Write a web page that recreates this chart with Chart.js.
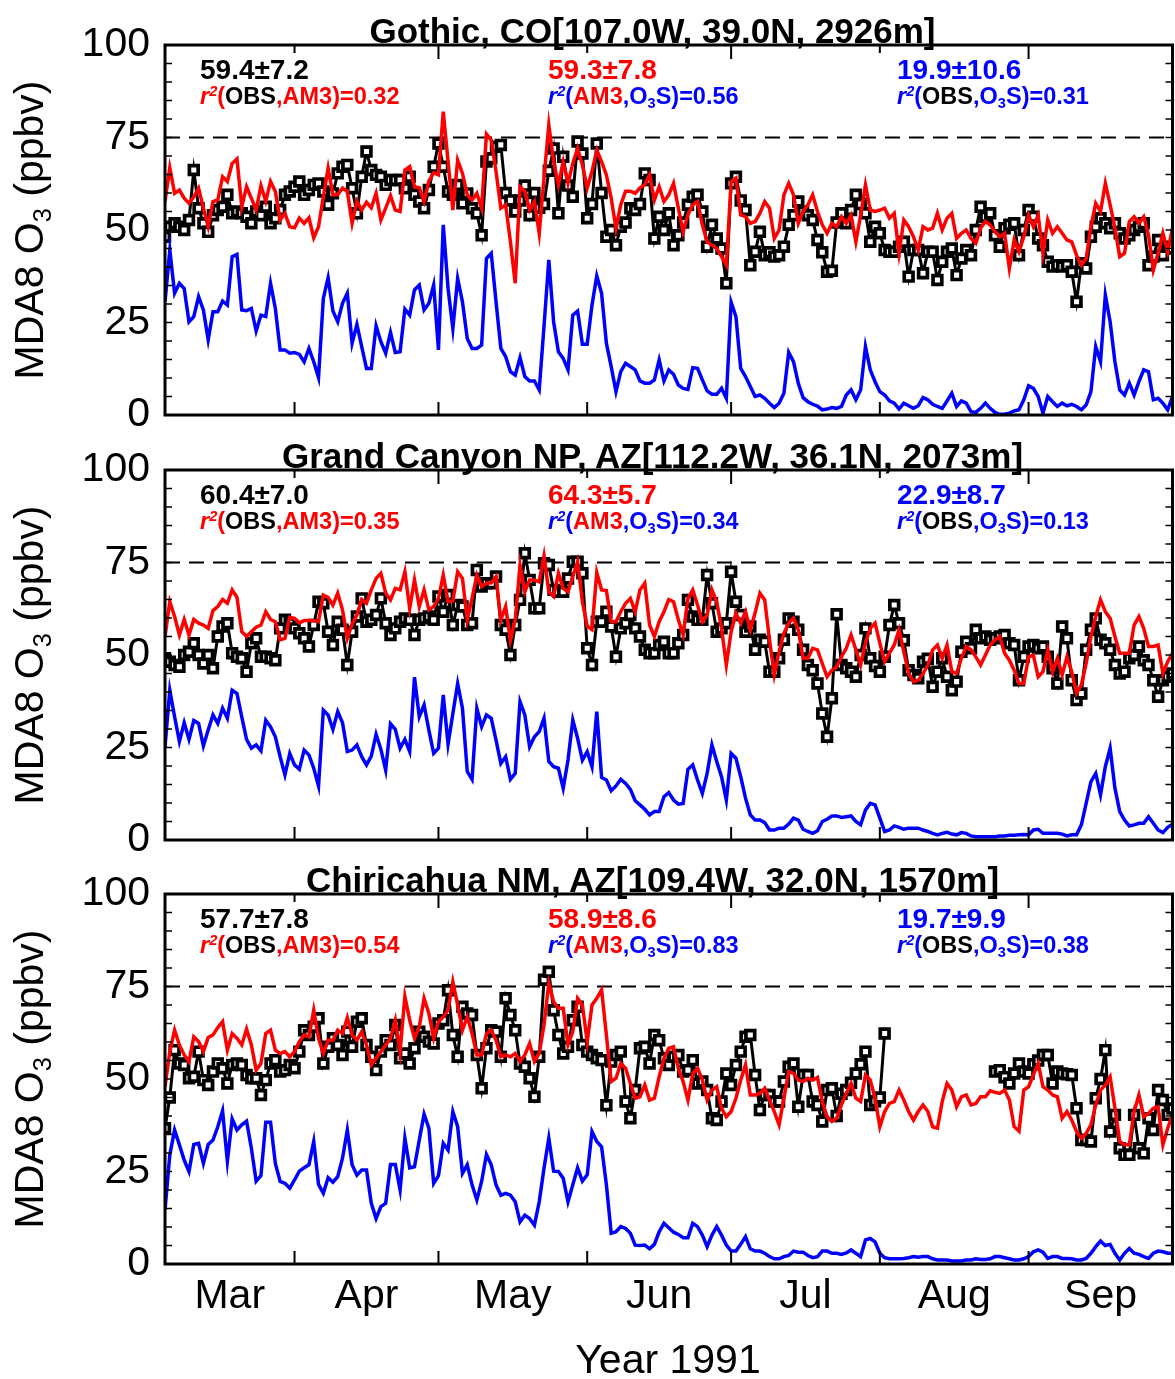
<!DOCTYPE html>
<html>
<head>
<meta charset="utf-8">
<script src="https://cdn.jsdelivr.net/npm/chart.js@4.4.1/dist/chart.umd.min.js"></script>
<style>
  html, body { margin: 0; padding: 0; background: #fff; }
  #wrap { position: relative; width: 1175px; height: 1379px; overflow: hidden; font-family: "Liberation Sans", Arial, sans-serif; }
  #wrap canvas { position: absolute; left: 0; top: 0; }
  .txt { position: absolute; white-space: nowrap; }
  .sup { font-size: 0.62em; position: relative; top: -0.55em; }
  .sub { font-size: 0.62em; position: relative; top: 0.3em; }
</style>
</head>
<body>
<div id="wrap">
  <canvas id="c0" width="1175" height="1379"></canvas>
  <canvas id="c1" width="1175" height="1379"></canvas>
  <canvas id="c2" width="1175" height="1379"></canvas>
</div>
<script>
// ---------------- axis / category data ----------------
const firstDay = 64;               // day of year 1991 of first daily value (5 Mar)
const xMin = 64, xMax = 274;
const monthStarts = [91, 121, 152, 182, 213, 244];          // Apr..Sep 1st (day of year)
const monthMids = [77.5, 106, 136.5, 167, 197.5, 228.5, 259];
const monthLabels = ['Mar', 'Apr', 'May', 'Jun', 'Jul', 'Aug', 'Sep'];
const yTicks = [0, 25, 50, 75, 100];
const refLevel = 75;
const xTitle = 'Year 1991';

const siteTitles = ['Gothic, CO[107.0W, 39.0N, 2926m]',
                    'Grand Canyon NP, AZ[112.2W, 36.1N, 2073m]',
                    'Chiricahua NM, AZ[109.4W, 32.0N, 1570m]'];
const obsMean = ['59.4±7.2', '60.4±7.0', '57.7±7.8'];
const am3Mean = ['59.3±7.8', '64.3±5.7', '58.9±8.6'];
const o3sMean = ['19.9±10.6', '22.9±8.7', '19.7±9.9'];
const r2ObsAm3 = ['0.32', '0.35', '0.54'];
const r2Am3O3s = ['0.56', '0.34', '0.83'];
const r2ObsO3s = ['0.31', '0.13', '0.38'];

// ---------------- series values (ppbv, daily) ----------------
const gothicO3s = [
 30.6,44.6,32.9,35.6,34.2,25.2,26.6,32,28.4,20.3,27.9,27.9,30.8,29.7,42.8,43.4,28.4,28.2,28.8,22.7,
 27,26.6,35.6,28.8,17.6,17.6,16.7,16.9,16.4,14.4,18,14.4,10.1,31.5,37.1,28.1,25.2,30.2,32.9,19.4,
 24.5,18.5,12.6,12.6,24.1,19.8,16.7,22.3,16.9,17.1,28.6,27,33.8,35.1,28.4,30.2,35.1,17.6,51.4,34.2,
 23.4,36.9,30.6,20.7,18,18,18.9,42.3,43.7,30.6,18,
 15.8,11.7,10.8,15.5,10.4,9.2,9.2,6.8,24,41.9,25.2,17.1,15.3,12.2,27,28.1,19.1,19.1,29.7,37.6,
 32.9,19.4,13.1,6.3,11.7,14,13.1,12.2,9.2,8.6,8.6,9.5,14.9,9.2,12.2,11,8.1,7.2,6.9,12.8,
 12.6,9.5,6.5,5.6,5.6,7.2,4.5,30.5,26.6,12.6,10.4,7.7,5,5.4,4.5,3.2,2,3.2,5.9,16.9,
 14.4,8.6,4.7,3.6,2.9,2.4,1.4,1.6,2,
 1.8,2.3,5.4,6.8,4.1,6.8,18.5,12.2,9,6.3,5.4,3.8,3.2,1.6,3.2,2.5,1.8,2.5,4.7,4.1,
 2.9,2.3,1.8,3.8,5.9,2.3,3.8,3.2,0.9,0.7,1.8,3.2,1.8,0.7,0.2,0.2,0.5,1.1,1.4,4.1,
 7.9,7.2,5,0.5,5,3.6,2.3,3.2,2.5,2.9,2.3,1.4,2.7,6.3,18.5,14.4,32.4,25.2,14.4,6.8,
 5.4,8.6,5.4,9,12.2,11.7,4.1,4.5,3.2,1.4,5
];
const gothicAm3 = [
 57.7,66.8,59.9,60.8,58.6,57.2,59,61.3,56,50.9,57.7,58.1,64.4,63.1,68,69.2,56.3,61.7,58.6,55.4,
 62,57.8,63.1,60.4,52.7,54.5,50.9,50.6,53.2,51.8,53.3,47.9,50.9,59,66.7,59.5,59.6,61.3,60.5,51.8,
 57.8,55.4,57.5,56,59.9,52.7,55.9,59.3,55.4,55,66.2,67.1,61.7,61.4,57.7,63.2,65.5,64.9,82,68.5,
 55.4,68.9,65.3,59.5,58.1,59.9,55.9,75.9,74.3,65.8,55.9,
 56.8,46.8,35.6,61.7,60.4,55.4,57.7,49.1,64,78.4,68.5,62.2,68.5,62.6,68,72.1,67.6,61.3,65.8,71.6,
 68.5,64.9,58.6,50.5,56.8,60.5,60.5,59.9,61.4,62.2,64.9,58.1,61.7,57.7,59.5,62.6,55.9,49.5,54.1,56.8,
 57.7,51.4,46.8,45.9,45,42.8,40.5,63.1,64,54.1,53.6,51.8,52.3,54.5,57.7,55.9,47.7,50,59.5,62.6,
 59.5,51.8,55,56.8,59.5,55,51.4,49.1,51.8,
 50.9,53.6,51.8,54,46.8,54,62.2,55.4,55,55.4,55.9,53.2,54.5,43.7,52.7,50.9,48.2,44.6,50.9,50,
 50.5,54.5,50,53.2,54.5,47.7,49.1,50,47.7,46.4,50.5,52.3,51.4,49.5,48.2,49.1,39.6,47.3,44.1,48.2,
 54,50.9,54,43.7,52.7,49.1,50.9,49.1,47.3,46.8,43.2,40.5,42.3,50.9,57.2,55,62.6,56.8,50.5,42.8,
 43.7,52.3,53.6,51.8,53.6,48.6,39.2,43.7,49.1,44.1,50.5
];
const gothicObs = [
 48.2,50.9,51.8,50.9,50,52.7,66.2,55.9,51.8,49.5,54,55.4,56.3,59.5,54.5,55,54.5,53.6,51.8,55,
 54,56.3,51.8,53.2,55.4,59.5,60.4,61.7,63.1,59.5,60.8,62.2,62.6,60.4,56.8,59.9,65.3,67.1,67.6,61.3,
 54.5,64.4,71.2,66.2,64.9,64.4,62.2,63.5,63.5,63.5,61.3,64.4,59.5,57.7,55.9,60.8,67.1,73.4,67.1,60.4,
 59.5,62.2,57.2,59.9,55.9,54.5,48.6,68.5,69.4,72.5,73,
 60,58,55,58,62,54,60,56,57,66,72,54.5,69.8,62,59,73.9,70.7,53.2,57,73.4,
 60,48.2,50,45.9,50.9,52,55.9,55.4,57,65.3,63.5,47.7,53.6,50,54.5,45.9,48.6,52,56.8,59,
 59.5,55,45.5,51.4,47.7,45,35.6,62.6,64.4,58,55.4,40.5,44.1,49.5,43.2,44,42.8,43.2,45.5,51.4,
 54,57.7,55,54,52.7,47.3,44,38.7,39,
 52,54.5,51.8,55.4,59.5,57,54.5,46.8,50.9,49.1,44.6,44.1,44.1,45.5,46.8,37.4,44.6,44.6,38.3,44.1,
 44.1,36.5,41.4,44.1,45,37.8,42.3,44.6,43.2,50,56.3,53.6,54.5,48.6,45.5,50.5,51.4,51.8,43.2,50,
 55.4,53.6,47.7,45.9,41.4,40.1,40.5,40.1,40.5,38.7,30.6,41,39.6,48.2,50.9,53.2,51.8,50.5,51.8,49.1,
 47.7,48.6,50,50.9,51.8,40.5,42.8,47.3,43.2,45.5,45
];

const canyonO3s = [
 25.2,40.5,33.3,26.6,31.7,27.2,32.3,31.5,25.4,29.7,33.8,31.5,35.6,32.9,40.5,39.6,33.3,27.2,24.8,25.7,
 24.1,32.4,30.6,27.9,22.5,17.6,23.4,20.3,19.1,24.3,23,19.4,14.6,35.1,33.8,29.9,34.7,31.7,23.9,24.3,
 25.7,22.5,20.3,22.7,28.6,24.5,18.9,31.4,29.9,24.8,27.2,23.9,44,33.3,36.5,29.7,23.4,24.8,39.2,25.9,
 34.2,42.3,35.6,18.5,16.4,35.6,30.6,33.8,32.9,27,20.7,
 22.5,16.4,18,37.4,33.8,25.2,27.9,29.3,32.9,21.2,19.8,19.4,14,21.6,32.4,27.5,21.6,23.9,19.8,34.7,
 16.9,16.2,13.3,14.6,16.4,15.3,13.7,10.6,9.5,8.3,6.8,7.7,7.7,11.7,12.8,10.8,9.7,9.9,19.1,20.3,
 16.2,12.6,18,25.7,21.2,17.1,10.8,23.4,22.1,17.1,11.3,6.8,5.4,5.4,4.7,2.7,2.7,3.2,3.2,4.3,
 5.9,5.4,2.9,2.3,1.8,2.5,5,5.6,6.5,
 6.5,6.1,6.3,6.5,5,4.1,8.1,9.9,9.5,5.9,2.3,2.7,3.8,3.4,2.9,3.2,3.2,3.2,2.7,2.3,
 1.8,1.4,1.8,2.1,1.6,1.4,2,1.8,1.1,0.9,0.9,0.9,0.9,0.9,1.1,1.1,1.3,1.3,1.4,1.5,
 1.4,2.7,2.9,1.8,1.8,1.8,1.8,1.6,1.1,1.4,1.4,4.1,9.9,15.8,18,12.2,19.8,24.8,14,7.7,
 5.4,3.8,4.1,4.5,4.5,6.3,4.5,2.7,2,3.4,4.3
];
const canyonAm3 = [
 55,64.4,60.4,55.4,59.6,55.4,59.6,58.6,58.1,57.2,62,63.1,65,64,67.6,65.6,56.3,55,56.3,57.5,
 58.1,61.7,59.6,59,54.1,54.5,60.2,59.9,58.7,59.3,59.3,59.3,59,66.2,65.6,63.5,66.7,62.2,54.5,58.4,
 60.8,65,64,67.6,70.7,72.1,66.7,64.9,68,67.6,72.5,62.6,70.3,63.1,67.6,62.2,63.1,65.3,71.6,64.4,
 64.6,72.5,70.7,59.5,65.3,71.6,68.5,69.4,69.5,71.2,59.5,
 63.1,54,59.5,74.3,67.1,70.3,70.3,69.8,76.8,67.1,65.8,72.1,68,67.1,71.2,75.2,64.4,57.8,56.9,72.3,
 67.6,67.4,59,59,61.7,64,65.3,61.7,67.6,69.4,58.1,55,59,61.7,65,64.4,59.5,55.4,65.3,67.6,
 63.5,59,60.8,67.6,64.4,57.2,47.3,56.3,61.3,58.6,61.7,56.8,61.4,66.7,64.9,54.1,44.6,50.9,55.9,58.6,
 60,56.8,49.1,49.1,51.8,51.4,47.7,44.1,45.9,
 46.8,49.5,51.8,55.4,51.4,47.3,53.2,57.2,58.6,53.2,48.2,50.5,52.7,56.8,50.9,45,42.8,43.2,45,47.3,
 51.4,52.7,49.1,52.7,45.5,45,49.1,52.3,51.4,49.5,47.3,50,52.7,54.1,55,50.5,48.6,45.9,42.3,42.3,
 49.5,50,44.1,45.5,51.4,45.5,49.1,44.6,49.5,45.5,39.6,41.9,47.7,55,60.4,64.9,61.7,59.9,55,50.5,
 50.5,50.5,58.1,60.4,57.2,52.3,52.3,52.7,45,48.2,50.5
];
const canyonObs = [
 49.1,48.2,47.3,46.8,50,50.9,53.2,50,47.7,50,46.4,55,57.7,58.6,50.5,49.5,49.1,45.5,53.2,54.5,
 49.5,49.5,49.1,48.6,57.2,59.5,58.6,57.2,55.9,54.5,52.3,58.1,64.4,64,56.3,52.7,59,56.8,47.3,56.3,
 60.4,65.3,59,59.5,60.8,65.3,58.6,55.4,57.2,59,59.9,59.5,55.4,59.5,59.9,60.4,59.5,65.8,61.7,66.2,
 58.1,63.5,63.1,58.1,58.6,73,68.5,69.4,69.4,71.2,58.1,
 56.8,50,58.1,64.9,77.5,70.3,62.6,62.6,74.8,74.3,67.6,67.1,67.1,70.7,75.2,75.2,72.1,51.8,47.3,59,
 59,61.7,57.7,49.5,57.2,58.6,60.8,57.2,55,51.4,50.5,50.5,52.7,53.6,50.5,50.5,53.2,55.4,64.9,60.4,
 59.5,59.5,71.6,64,56.3,57.2,58.6,72.5,64.4,60.8,56.3,57.7,51.4,54.1,53.6,45.5,45.5,49.1,54.1,59.9,
 59,56.8,51.4,47.3,45.9,42.3,34.2,27.9,38.3,
 61,47.3,46.4,45.5,44.1,50,57.2,49.1,47,45.5,49.5,58.1,63.5,58.6,54,45.9,44.6,43.7,48.2,49,
 41.4,45.5,49.1,44.1,40.5,42.8,50.9,53.6,51.8,56.8,54.5,55,54.1,54.5,55,55.4,53.2,52.7,43.2,49.5,
 52.3,52.7,51.8,52.3,49.5,46.4,42.3,57.7,54.5,43.2,37.8,39.6,51.4,56.8,59.9,54.1,53.2,51.4,47.3,45,
 45.5,49.1,50,52.3,48.6,47.3,43.2,38.7,43.2,44.1,45
];

const chiriO3s = [
 14.6,29.5,36.2,32.2,28.1,25,32.3,32.6,27.2,32.3,33.5,37.1,41.4,27.8,39.2,36.2,37.6,38.6,31.3,22.4,
 23.9,38.3,38.3,27.2,22.3,21.8,20.5,22.7,25.1,26,26.8,33.1,21.5,19.1,23.3,22.1,23.6,28.6,36.2,26.8,
 24,25.4,25.4,16.4,12.3,15.5,16.4,26.9,26.9,20,34,26,26.3,33.5,40.5,36.7,21.8,23.9,32.6,30.8,
 41.2,37.1,24.5,26.8,21.4,17.3,22.3,29.6,26.8,21.4,18.6,
 19.1,18.6,16.8,11.4,13.2,12.3,10.5,16.8,25.9,34,25.1,25,23.2,16.8,21.4,26,22.4,24.1,35.8,33.1,
 31.7,21.4,8.3,8.7,10.1,9.6,8.3,5.1,5,5.1,4.1,5.3,8.7,11,9.8,8.6,8,7.1,7.1,11,
 10.1,7.8,4.7,7.8,10.1,7.8,5.1,3.5,3.5,5.3,7.4,4.1,3.5,3.5,2.9,2,1.4,1.4,2,2.3,
 3.5,3.2,3.2,2.3,1.7,2,3.5,3.5,2.9,
 2.9,2.6,3,3.8,2.9,2,6.5,6.9,6,2.9,1.7,1.4,1.4,1.4,1.5,1.7,2,1.8,2,2,
 1.4,1.1,1.1,1.1,0.8,0.8,0.8,1.1,1.1,1.4,1.2,1.2,1.4,2,2,1.7,1.4,1.1,1.1,1.4,
 2,3.3,3.8,3.2,1.5,2,2,1.5,1.5,1.4,1.1,1.1,1.5,2.9,4.7,6.2,5,5.3,2.9,1.1,
 2.9,4.2,2.9,2.6,2,1.5,2.9,3.5,3.3,2.9,2.9
];
const chiriAm3 = [
 47.9,57.4,63.2,59.2,56.5,54.7,61.4,60.1,57.4,61.2,61.9,63.9,65.5,57.8,62.3,61,59.2,63.5,59.2,52.4,
 54.2,62.3,63.2,57.8,56.9,57.4,56,57.4,60.1,61.9,61.4,68.6,61,56.9,60.5,60.5,63.2,62.3,66.6,61.9,
 60.5,62.8,59.2,53.8,55.6,57.4,59.2,61,65.9,57.4,72.3,65.9,61,64.1,71.8,67.7,61,65.5,66.8,68.6,
 76.3,70,63.2,66.8,62.3,56.5,56.5,62.3,63.2,60.5,56,
 56.5,56,56.9,54.7,56.5,59.6,54.7,56.9,64.6,75.9,70.9,69.1,69.1,59.2,62.8,71.8,70,60.1,70,71.8,
 74.1,61.9,49.3,50.2,54.2,52.9,48.8,44.8,45.2,48.4,44.3,44.8,50.6,55.6,58.3,58.7,52.9,49.3,44.3,51.5,
 52.9,49.7,44.3,47,47.9,42.1,39.8,41.2,44.8,49.7,53.8,45.7,45.7,46.1,47.5,44.3,41.2,37.6,44.8,52,
 51.5,49.7,49.3,50.2,49.7,50.4,43.9,39.8,38.5,
 39.4,43,46.1,48.8,44.8,43.9,51.1,49.7,44.8,37.1,41.2,43.4,43.9,47,44.3,41.2,38.9,41.2,43,41.2,
 37.1,36.7,43.9,48.8,47,42.5,45.2,45.7,43,43.4,45.2,45.2,46.8,46.4,46.1,47,44.3,37.1,35.9,47,
 47.9,51.1,54.2,47.9,47,45.7,45.2,39.4,41.2,38.9,35.8,34,35.3,37.6,43,47,48.4,50.6,42.1,33.1,
 32.2,32.2,41.2,45.7,39.8,40.7,42.1,42.5,32.2,36.7,40.3
];
const chiriObs = [
 36.7,45,57.8,54.2,53.8,50.2,50.6,57.4,49.7,48.4,52,54.2,52.9,48.8,53.8,54.2,53.8,51.1,50.2,50.2,
 45.7,49.7,54.2,55.1,52,52.4,53.8,52.9,57.4,63.2,61.9,64.1,66.4,54.2,58.7,61,59.2,56.5,62.8,58.7,
 65.5,66.4,59.2,56,52.4,57.4,60.5,59.2,64.6,55.6,56.9,54.2,58.3,62.8,61.4,60.1,59.6,65,65.9,74,
 61.9,56,69.5,67.7,67.3,56.5,47.5,58.3,63.2,62.8,56,
 71.8,67.3,63.2,54.2,53.3,50.2,45.2,56,76.8,79,68.6,61.9,56.9,58.7,65.9,69.5,59.2,57.4,56.5,55.6,
 55.1,42.9,54.7,56.5,57.4,43.9,39.4,47,58.3,58.7,54.2,61.9,60.5,55.6,53.8,56,56.5,52,52.4,55.1,
 48.8,49.3,47,39.4,38.9,43.9,51.5,48.4,53.8,57.4,61.4,61.9,51.1,41.6,45.7,45.7,43.9,43.9,49.3,53.3,
 54.2,42.5,51.1,51.1,43.9,43,38.5,47,47.5,
 40,46,47,49,51.5,54,57.4,43,44,45,62.3,
 null,null,null,null,null,null,null,null,null,null,null,null,null,null,null,null,null,null,null,null,null,null,
 52,52.4,50.5,48.8,51.5,54.2,52,51.5,54,55,56.5,56.5,48.8,52,51.5,51.3,51.1,42.1,33.5,33.5,
 33.1,44.8,50,57.8,35.8,40.3,31.3,29.5,29.5,40.3,31.3,29.9,39.4,36.2,47,44.3,40.3,42
];

const obsSeries = [gothicObs, canyonObs, chiriObs];
const am3Series = [gothicAm3, canyonAm3, chiriAm3];
const o3sSeries = [gothicO3s, canyonO3s, chiriO3s];

// ---------------- layout ----------------
const W = 1175, H = 1379;
const panelTop = [45, 470, 894];
const panelBottom = [415, 840, 1264];
const plotLeft = 165, plotRight = 1172.5;
const FONT = '"Liberation Sans", Arial, sans-serif';

function pts(arr) { return arr.map((v, i) => ({ x: firstDay + i, y: v })); }

const framePlugin = {
  id: 'frame',
  afterDraw(chart) {
    const { ctx, chartArea: { left, right, top, bottom }, scales: { x, y } } = chart;
    ctx.save();
    ctx.strokeStyle = '#000';
    ctx.lineWidth = 1.6;
    ctx.beginPath();
    for (let v = 5; v < 100; v += 5) {
      const py = y.getPixelForValue(v);
      ctx.moveTo(left, py); ctx.lineTo(left + 7, py);
      ctx.moveTo(right, py); ctx.lineTo(right - 7, py);
    }
    ctx.stroke();
    ctx.lineWidth = 2;
    ctx.beginPath();
    monthStarts.forEach((d, i) => {
      const px = x.getPixelForValue(d);
      ctx.moveTo(px, bottom); ctx.lineTo(px, bottom - 13);
      ctx.moveTo(px, top); ctx.lineTo(px, top + (i % 2 === 1 ? 14 : 8));
    });
    ctx.stroke();
    ctx.lineWidth = 3;
    ctx.strokeRect(left, top, right - left, bottom - top);
    ctx.restore();
  }
};

function makeChart(p) {
  const isLast = p === 2;
  const xAxisH = isLast ? 60 : 0;
  new Chart(document.getElementById('c' + p), {
    type: 'line',
    data: {
      datasets: [
        { label: 'O3S', data: pts(o3sSeries[p]), borderColor: '#0000ff', borderWidth: 3.5, pointRadius: 0, tension: 0 },
        { label: 'AM3', data: pts(am3Series[p]), borderColor: '#ff0000', borderWidth: 3.5, pointRadius: 0, tension: 0 },
        { label: 'OBS', data: pts(obsSeries[p]), borderColor: '#000000', borderWidth: 3, tension: 0,
          pointStyle: 'rect', pointRadius: 6.2, pointBorderWidth: 3.7,
          pointBackgroundColor: '#ffffff', pointBorderColor: '#000000' },
        { label: 'ref', data: [{ x: xMin, y: refLevel }, { x: xMax, y: refLevel }], borderColor: '#000000',
          borderWidth: 2, borderDash: [15, 9], pointRadius: 0 }
      ]
    },
    options: {
      responsive: false, animation: false, events: [],
      layout: { autoPadding: false,
                padding: { top: panelTop[p], bottom: H - panelBottom[p] - xAxisH, left: 0, right: W - plotRight } },
      plugins: { legend: { display: false }, tooltip: { enabled: false }, title: { display: false } },
      scales: {
        x: {
          type: 'linear', min: xMin, max: xMax,
          grid: { display: false, drawTicks: false }, border: { display: false },
          afterBuildTicks: s => { s.ticks = monthMids.map(v => ({ value: v })); },
          ticks: { display: isLast, autoSkip: false, maxRotation: 0, minRotation: 0, padding: 8, color: '#000',
                   font: { family: FONT, size: 41 }, callback: (v, i) => monthLabels[i] },
          afterFit: s => { s.height = xAxisH; }
        },
        y: {
          min: 0, max: 100,
          afterBuildTicks: s => { s.ticks = yTicks.map(v => ({ value: v })); },
          grid: { display: false, drawTicks: false }, border: { display: false },
          ticks: { padding: 15, color: '#000', font: { family: FONT, size: 41 } },
          afterFit: s => { s.width = plotLeft; }
        }
      }
    },
    plugins: [framePlugin]
  });
}

// ---------------- text (HTML) ----------------
const wrap = document.getElementById('wrap');
function addText(html, left, baseline, size, opts = {}) {
  const d = document.createElement('div');
  d.className = 'txt';
  d.innerHTML = html;
  d.style.fontSize = size + 'px';
  d.style.lineHeight = size + 'px';
  d.style.top = (baseline - 0.8465 * size) + 'px';
  d.style.left = left + 'px';
  d.style.fontWeight = opts.weight || 'bold';
  d.style.color = opts.color || '#000';
  if (opts.center) d.style.transform = 'translateX(-50%)';
  wrap.appendChild(d);
  return d;
}
const RED = '#ff0000', BLUE = '#0000ff';
const r2 = '<i>r<span class="sup">2</span></i>';
const o3s = 'O<span class="sub">3</span>S';

for (let p = 0; p < 3; p++) {
  makeChart(p);
  const t = panelTop[p];
  addText(siteTitles[p], 652.5, t - 2.5, 35, { center: true });
  addText(obsMean[p], 200, t + 34.7, 28, { color: '#000' });
  addText(am3Mean[p], 548, t + 34.7, 28, { color: RED });
  addText(o3sMean[p], 897, t + 34.7, 28, { color: BLUE });
  addText(`<span style="color:${RED}">${r2}(</span>OBS<span style="color:${RED}">,AM3)=${r2ObsAm3[p]}</span>`, 200, t + 60, 23.5, { color: '#000' });
  addText(`${r2}(<span style="color:${RED}">AM3</span>,${o3s})=${r2Am3O3s[p]}`, 548, t + 60, 23.5, { color: BLUE });
  addText(`${r2}(<span style="color:#000">OBS</span>,${o3s})=${r2ObsO3s[p]}`, 897, t + 60, 23.5, { color: BLUE });
  // y-axis title
  const yt = document.createElement('div');
  yt.className = 'txt';
  yt.innerHTML = 'MDA8 O<span class="sub">3</span> (ppbv)';
  yt.style.fontSize = '41px';
  yt.style.lineHeight = '41px';
  yt.style.left = '32px';
  yt.style.top = ((panelTop[p] + panelBottom[p]) / 2) + 'px';
  yt.style.transform = 'translate(-50%, -50%) rotate(-90deg)';
  wrap.appendChild(yt);
}
addText(xTitle, 668, 1374, 41, { center: true, weight: 'normal' });
</script>
</body>
</html>
